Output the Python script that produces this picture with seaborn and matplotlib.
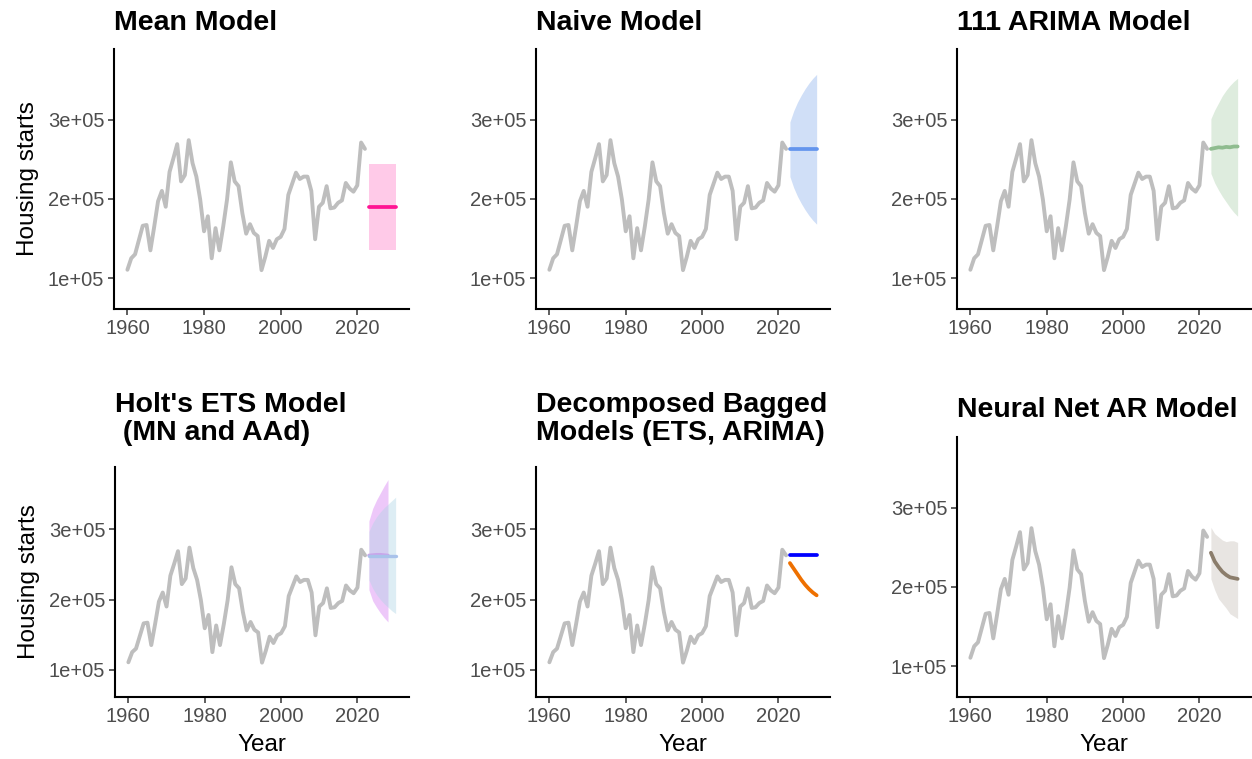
import numpy as np
import pandas as pd
import matplotlib
matplotlib.use("Agg")
import matplotlib.pyplot as plt
import seaborn as sns

# ---------------- data (housing starts) ----------------
years = list(range(1960, 2023))
starts = [110500, 125000, 130000, 148000, 166000, 167000, 135000, 165000, 197000, 210000,
          190000, 234000, 251000, 269000, 222000, 230000, 274000, 245000, 228000, 199000,
          159000, 178000, 125000, 163000, 135000, 165000, 199000, 246000, 222000, 216000,
          182000, 156000, 168000, 157000, 153000, 110000, 127000, 147000, 138000, 149000,
          152000, 162000, 205000, 219000, 233000, 225000, 228000, 228000, 210000, 149000,
          190000, 195000, 216000, 188000, 189000, 195000, 198000, 220000, 213000, 209000,
          217000, 271000, 263000]

fc_years = [2023, 2024, 2025, 2026, 2027, 2028, 2029, 2030]

mean_fc = [190000] * 8
mean_lo = [135000] * 8
mean_hi = [244000] * 8

naive_fc = [263000] * 8
naive_lo = [228000, 214000, 203000, 194000, 186000, 179000, 173000, 168000]
naive_hi = [297000, 311000, 322000, 331000, 339000, 346000, 352000, 357000]

arima_fc = [263000, 264000, 265000, 264500, 265500, 265000, 266000, 266000]
arima_lo = [232000, 220000, 211000, 203000, 196000, 189000, 183000, 178000]
arima_hi = [301000, 312000, 321000, 330000, 337000, 343000, 348000, 352000]

holt_mn_years = [2023, 2024, 2025, 2026, 2027, 2028]
holt_mn_fc = [263000, 263500, 264000, 264000, 263500, 263000]
holt_mn_lo = [214000, 198000, 189000, 181000, 174000, 168000]
holt_mn_hi = [312000, 330000, 342000, 352000, 362000, 371000]

holt_aad_fc = [262000] * 8
holt_aad_lo = [228000, 216000, 207000, 200000, 194000, 189000, 184000, 180000]
holt_aad_hi = [297000, 309000, 318000, 325000, 331000, 336000, 341000, 346000]

bag_ets_fc = [263000] * 8
bag_arima_fc = [252000, 244000, 236000, 228000, 221000, 215000, 210000, 206000]

nnar_fc = [243000, 232000, 225000, 219000, 215000, 212000, 211000, 210000]
nnar_lo = [210000, 196000, 185000, 179000, 173000, 166000, 163000, 160000]
nnar_hi = [275000, 267000, 263000, 259000, 257000, 258000, 258000, 256000]

titles = ["Mean Model", "Naive Model", "111 ARIMA Model",
          "Holt's ETS Model\n (MN and AAd)", "Decomposed Bagged\nModels (ETS, ARIMA)",
          "Neural Net AR Model"]
y_ticks = [100000, 200000, 300000]
y_tick_labels = ["1e+05", "2e+05", "3e+05"]
x_ticks = [1960, 1980, 2000, 2020]

# ---------------- style ----------------
sns.set_theme(style="ticks")
plt.rcParams["font.family"] = ["Liberation Sans", "DejaVu Sans"]

W, H = 1252, 759
fig = plt.figure(figsize=(W / 100, H / 100), dpi=100)

def add_ax(left, right, top, bottom):
    return fig.add_axes([left / W, 1 - bottom / H, (right - left) / W, (bottom - top) / H])

axes = [
    add_ax(114, 409, 49, 309),
    add_ax(536, 830, 49, 309),
    add_ax(957, 1251, 49, 309),
    add_ax(115, 409, 467, 697),
    add_ax(536, 830, 467, 697),
    add_ax(957, 1251, 437, 697),
]
pads = [13.5, 13.5, 13.5, 19.5, 19.5, 14.5]

hist = pd.DataFrame({"Year": years, "Starts": starts})

def fc_line(ax, yrs, vals, color, lw=2.7, alpha=1.0):
    d = pd.DataFrame({"Year": yrs, "Starts": vals})
    sns.lineplot(data=d, x="Year", y="Starts", color=color, lw=lw, alpha=alpha, ax=ax)

for i, ax in enumerate(axes):
    sns.lineplot(data=hist, x="Year", y="Starts", color="#bebebe", lw=2.8, ax=ax)

# Mean
ax = axes[0]
ax.fill_between(fc_years, mean_lo, mean_hi, color="#ffcae8", lw=0)
fc_line(ax, fc_years, mean_fc, "#ff1493")
# Naive
ax = axes[1]
ax.fill_between(fc_years, naive_lo, naive_hi, color="#d0dff7", lw=0)
fc_line(ax, fc_years, naive_fc, "#6495ed")
# ARIMA
ax = axes[2]
ax.fill_between(fc_years, arima_lo, arima_hi, color="#deecde", lw=0)
fc_line(ax, fc_years, arima_fc, "#8fbc8f")
# Holt
ax = axes[3]
ax.fill_between(holt_mn_years, holt_mn_lo, holt_mn_hi, color="#d476f2", alpha=0.4, lw=0)
ax.fill_between(fc_years, holt_aad_lo, holt_aad_hi, color="#acd4e4", alpha=0.4, lw=0)
fc_line(ax, holt_mn_years, holt_mn_fc, "#c9a6ea", lw=2.4)
fc_line(ax, fc_years, holt_aad_fc, "#a9c2ea", lw=2.4)
# Bagged
ax = axes[4]
fc_line(ax, fc_years, bag_ets_fc, "#0000ff")
fc_line(ax, fc_years, bag_arima_fc, "#ee7000")
# NNAR
ax = axes[5]
ax.fill_between(fc_years, nnar_lo, nnar_hi, color="#e8e5e2", lw=0)
fc_line(ax, fc_years, nnar_fc, "#8b7d6b")

for i, ax in enumerate(axes):
    ax.set_xlim(1956.5, 2033.5)
    ax.set_ylim(61000, 389000)
    ax.set_xticks(x_ticks)
    ax.set_xticklabels([str(x) for x in x_ticks])
    ax.set_yticks(y_ticks)
    ax.set_yticklabels(y_tick_labels)
    ax.tick_params(axis="both", labelsize=14.5, labelcolor="#4d4d4d", color="#333333",
                   length=4, width=1.1, pad=3)
    for s in ["top", "right"]:
        ax.spines[s].set_visible(False)
    for s in ["left", "bottom"]:
        ax.spines[s].set_color("black")
        ax.spines[s].set_linewidth(1.5)
    ax.set_title(titles[i], loc="left", fontsize=20.5, fontweight="bold", pad=pads[i],
                 linespacing=1.12, color="black")
    ax.set_xlabel("Year" if i >= 3 else "", fontsize=17.5, color="black", labelpad=6)
    ax.set_ylabel("Housing starts" if i in (0, 3) else "", fontsize=17.5, color="black",
                  labelpad=6)
    ax.grid(False)
    ax.set_facecolor("white")

fig.savefig("out.png", dpi=100, facecolor="white")
